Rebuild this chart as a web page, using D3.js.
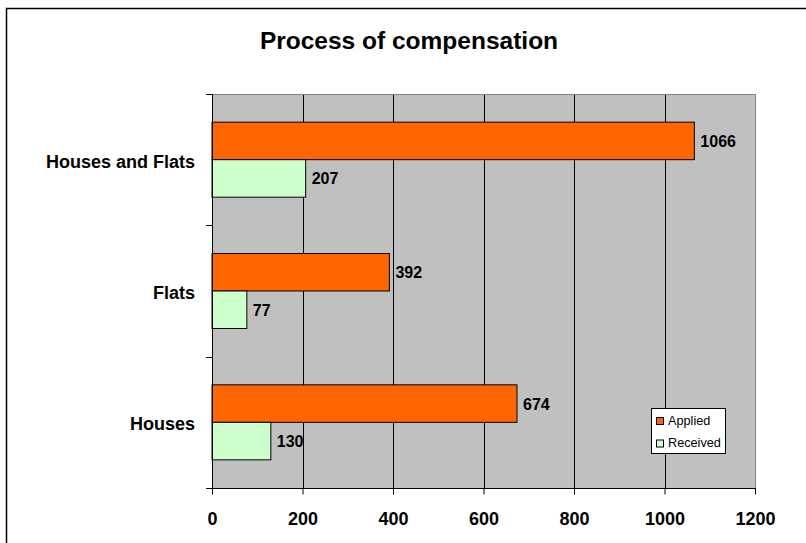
<!DOCTYPE html>
<html>
<head>
<meta charset="utf-8">
<script src="https://cdn.jsdelivr.net/npm/d3@7"></script>
<style>
  html, body { margin: 0; padding: 0; background: #fff; }
  svg { display: block; font-family: Arial, "Liberation Sans", sans-serif; }
</style>
</head>
<body>
<svg id="chart" width="806" height="543"></svg>
<script>
const title = "Process of compensation";
const categories = ["Houses and Flats", "Flats", "Houses"];
const seriesNames = ["Applied", "Received"];
const applied = [1066, 392, 674];
const received = [207, 77, 130];
const xTicks = [0, 200, 400, 600, 800, 1000, 1200];
const seriesColors = ["#FF6600", "#CCFFCC"];

const svg = d3.select("#chart");
const plot = { left: 212, right: 755, top: 94, bottom: 488 };

// outer frame
svg.append("rect")
  .attr("x", 6.5).attr("y", 8.5).attr("width", 820).attr("height", 600)
  .attr("fill", "#fff").attr("stroke", "#000").attr("stroke-width", 1.5);

// title
svg.append("text")
  .attr("x", 409).attr("y", 49)
  .attr("text-anchor", "middle")
  .attr("font-size", 24.5).attr("font-weight", "bold")
  .text(title);

const x = d3.scaleLinear().domain([0, 1200]).range([plot.left, plot.right]);
const y0 = d3.scaleBand().domain(categories).range([plot.top, plot.bottom]).padding(0);
const y1 = d3.scaleBand().domain(seriesNames).range([0, y0.bandwidth()])
  .paddingInner(0).paddingOuter(0.751);

// plot background
svg.append("rect")
  .attr("x", plot.left).attr("y", plot.top)
  .attr("width", plot.right - plot.left).attr("height", plot.bottom - plot.top)
  .attr("fill", "#C0C0C0");

// gridlines
svg.append("g").selectAll("line")
  .data(xTicks.filter(d => d > 0 && d < 1200))
  .join("line")
  .attr("x1", d => Math.round(x(d)) + 0.5).attr("x2", d => Math.round(x(d)) + 0.5)
  .attr("y1", plot.top).attr("y2", plot.bottom)
  .attr("stroke", "#000").attr("stroke-width", 1);

// plot border top/right (gray)
svg.append("path")
  .attr("d", `M${plot.left},${plot.top + 0.5}H${plot.right + 0.5}V${plot.bottom}`)
  .attr("fill", "none").attr("stroke", "#808080").attr("stroke-width", 1);

// bars
const rows = categories.map((c, i) => ({ cat: c, values: [applied[i], received[i]] }));
const groups = svg.append("g").selectAll("g")
  .data(rows).join("g")
  .attr("transform", d => `translate(0,${y0(d.cat)})`);

groups.selectAll("rect")
  .data(d => d.values.map((v, j) => ({ s: seriesNames[j], v, j })))
  .join("rect")
  .attr("x", x(0))
  .attr("y", d => y1(d.s))
  .attr("width", d => x(d.v) - x(0))
  .attr("height", y1.bandwidth())
  .attr("fill", d => seriesColors[d.j])
  .attr("stroke", "#000").attr("stroke-width", 1);

groups.selectAll("text")
  .data(d => d.values.map((v, j) => ({ s: seriesNames[j], v, j })))
  .join("text")
  .attr("x", d => x(d.v) + 6)
  .attr("y", d => y1(d.s) + y1.bandwidth() / 2 + 6)
  .attr("font-size", 16).attr("font-weight", "bold")
  .text(d => d.v);

// x axis
const xAxis = svg.append("g")
  .attr("transform", `translate(0,${plot.bottom + 0.5})`)
  .call(d3.axisBottom(x).tickValues(xTicks).tickFormat(d3.format("d"))
    .tickSize(6).tickSizeOuter(0).tickPadding(18));
xAxis.select(".domain").attr("stroke", "#000").attr("d", `M${plot.left - 6},0H${plot.right + 1}`);
xAxis.selectAll(".tick line").attr("stroke", "#000");
xAxis.selectAll(".tick text")
  .attr("font-size", 18).attr("font-weight", "bold").attr("fill", "#000")
  .attr("font-family", "Arial, 'Liberation Sans', sans-serif");

// y axis line + ticks at category boundaries
svg.append("line")
  .attr("x1", plot.left + 0.5).attr("x2", plot.left + 0.5)
  .attr("y1", plot.top).attr("y2", plot.bottom + 6)
  .attr("stroke", "#000");
const boundaries = categories.map(c => y0(c)).concat([plot.bottom]);
svg.append("g").selectAll("line")
  .data(boundaries).join("line")
  .attr("x1", plot.left - 6).attr("x2", plot.left)
  .attr("y1", d => Math.round(d) + 0.5).attr("y2", d => Math.round(d) + 0.5)
  .attr("stroke", "#000");

// category labels
svg.append("g").selectAll("text")
  .data(categories).join("text")
  .attr("x", 195)
  .attr("y", d => y0(d) + y0.bandwidth() / 2 + 8)
  .attr("text-anchor", "end")
  .attr("font-size", 18).attr("font-weight", "bold")
  .text(d => d);

// legend
const legend = svg.append("g");
legend.append("rect")
  .attr("x", 651.5).attr("y", 408.5).attr("width", 74).attr("height", 45)
  .attr("fill", "#fff").attr("stroke", "#000");
seriesNames.forEach((s, i) => {
  legend.append("rect")
    .attr("x", 656.5).attr("y", 417.5 + i * 22.5).attr("width", 7).attr("height", 7)
    .attr("fill", seriesColors[i]).attr("stroke", "#000");
  legend.append("text")
    .attr("x", 668).attr("y", 424.5 + i * 22.5)
    .attr("font-size", 12.7)
    .text(s);
});
</script>
</body>
</html>
